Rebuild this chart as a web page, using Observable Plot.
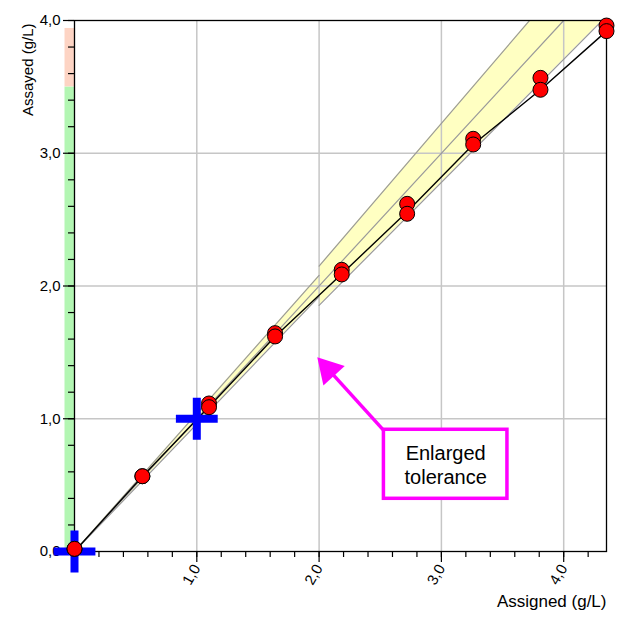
<!DOCTYPE html>
<html>
<head>
<meta charset="utf-8">
<script src="https://cdn.jsdelivr.net/npm/d3@7"></script>
<script src="https://cdn.jsdelivr.net/npm/@observablehq/plot@0.6"></script>
<style>
  html, body { margin: 0; padding: 0; background: #ffffff; }
  #chart svg { display: block; }
</style>
</head>
<body>
<div id="chart"></div>
<script>
// ---------- data ----------
const assigned    = [0.00, 0.555, 1.10, 1.64, 2.185, 2.72, 3.26, 3.81, 4.35];
const assayedHigh = [0.02, 0.567, 1.115, 1.645, 2.122, 2.619, 3.109, 3.568, 3.962];
const assayedLow  = [0.02, 0.567, 1.087, 1.620, 2.087, 2.544, 3.066, 3.478, 3.920];
const fitLine     = [0.00, 0.565, 1.090, 1.620, 2.090, 2.560, 3.066, 3.478, 3.920];

const yTickValues = [0, 1, 2, 3, 4];
const yTickLabels = ["0,0", "1,0", "2,0", "3,0", "4,0"];
const xTickValues = [1, 2, 3, 4];
const xTickLabels = ["1,0", "2,0", "3,0", "4,0"];
const yMinorTicks = [0, 0.2, 0.4, 0.6, 0.8, 1, 1.2, 1.4, 1.6, 1.8, 2, 2.2, 2.4, 2.6, 2.8, 3, 3.2, 3.4, 3.6, 3.8, 4];
const xMinorTicks = [0, 0.2, 0.4, 0.6, 0.8, 1, 1.2, 1.4, 1.6, 1.8, 2, 2.2, 2.4, 2.6, 2.8, 3, 3.2, 3.4, 3.6, 3.8, 4, 4.2];

// tolerance bands (relative to the identity line)
const standardRangeX = [0, 2];
const standardLow = [0.96, 0.96];
const standardHigh = [1.04, 1.04];
const enlargedRangeX = [2, 4.35];
const enlargedLow = [0.927, 0.927];
const enlargedHigh = [1.075, 1.075];

// identity line
const identityX = [0, 4];

// target crosses
const targetX = [0, 1];
const targetY = [0, 1];

// acceptance zones on the y axis
const zoneFrom  = [0, 3.5];
const zoneTo    = [3.5, 3.94];
const zoneColor = ["#b3f6b3", "#fdd4c4"];

// annotation
const annotationText = "Enlarged\ntolerance";
const boxX = [2.530, 3.540];
const boxY = [0.397, 0.917];
const arrowFrom = [2.530, 0.911];
const arrowTo   = [1.985, 1.464];

// ---------- tables built from the arrays ----------
const highPts = assigned.map((x, i) => ({x, y: assayedHigh[i]}));
const lowPts  = assigned.map((x, i) => ({x, y: assayedLow[i]}));
const points  = highPts.concat(lowPts);
const fit     = assigned.map((x, i) => ({x, y: fitLine[i]}));
const stdBand = standardRangeX.map((x, i) => ({x, lo: x * standardLow[i], hi: x * standardHigh[i]}));
const enlBand = enlargedRangeX.map((x, i) => ({x, lo: x * enlargedLow[i], hi: x * enlargedHigh[i]}));
const identity = identityX.map(x => ({x, y: x}));
const targets = targetX.map((x, i) => ({x, y: targetY[i]}));
const zones = zoneFrom.map((f, i) => ({from: f, to: zoneTo[i], color: zoneColor[i]}));
const box = [{x1: boxX[0], x2: boxX[1], y1: boxY[0], y2: boxY[1]}];
const label = [{x: (boxX[0] + boxX[1]) / 2, y: (boxY[0] + boxY[1]) / 2, text: annotationText}];
const headFrac = 0.2;
const arrow = [{
  x1: arrowFrom[0], y1: arrowFrom[1],
  x2: arrowTo[0] + (arrowFrom[0] - arrowTo[0]) * headFrac,
  y2: arrowTo[1] + (arrowFrom[1] - arrowTo[1]) * headFrac,
  tx: arrowTo[0], ty: arrowTo[1]
}];

const yFmt = d => yTickLabels[yTickValues.indexOf(d)];
const xFmt = d => xTickLabels[xTickValues.indexOf(d)];

const MAGENTA = "#ff00ff";
const BAND = "#ffffc2";
const EDGE = "#9a9a9a";
const GRID = "#c6c6c6";

const chart = Plot.plot({
  width: 617,
  height: 617,
  marginLeft: 74,
  marginRight: 11,
  marginTop: 20,
  marginBottom: 66,
  style: {fontFamily: "'Liberation Sans', Arial, sans-serif", fontSize: "15px", color: "#000", background: "#fff"},
  x: {domain: [0, 4.35]},
  y: {domain: [0, 4]},
  color: {type: "identity"},
  marks: [
    // tolerance bands
    Plot.areaY(stdBand, {x: "x", y1: "lo", y2: "hi", fill: BAND, clip: true}),
    Plot.areaY(enlBand, {x: "x", y1: "lo", y2: "hi", fill: BAND, clip: true}),
    // grid
    Plot.gridX(xTickValues, {stroke: GRID, strokeOpacity: 1, strokeWidth: 1.5}),
    Plot.gridY(yTickValues.filter(d => d > 0 && d < 4), {stroke: GRID, strokeOpacity: 1, strokeWidth: 1.5}),
    // band edges
    Plot.line(stdBand, {x: "x", y: "lo", stroke: EDGE, strokeWidth: 1.2, clip: true}),
    Plot.line(stdBand, {x: "x", y: "hi", stroke: EDGE, strokeWidth: 1.2, clip: true}),
    Plot.line(enlBand, {x: "x", y: "lo", stroke: EDGE, strokeWidth: 1.2, clip: true}),
    Plot.line(enlBand, {x: "x", y: "hi", stroke: EDGE, strokeWidth: 1.2, clip: true}),
    Plot.line(identity, {x: "x", y: "y", stroke: EDGE, strokeWidth: 1.2, clip: true}),
    // acceptance zones bar
    Plot.ruleX(zones, {x: 0, y1: "from", y2: "to", stroke: "color", strokeWidth: 10, dx: -5}),
    // frame
    Plot.frame({stroke: "#000", strokeWidth: 1.3}),
    // axes
    Plot.axisY(yMinorTicks, {tickSize: 6, tickFormat: () => "", label: null, strokeWidth: 1.2}),
    Plot.axisY(yTickValues, {tickSize: 11, tickPadding: 3, tickFormat: yFmt, label: null, fontSize: 15, strokeWidth: 1.2}),
    Plot.axisX(xMinorTicks, {tickSize: 6, tickFormat: () => "", label: null, strokeWidth: 1.2}),
    Plot.axisX(xTickValues, {tickSize: 11, tickPadding: 3, tickRotate: -60, tickFormat: xFmt, label: null, fontSize: 15, strokeWidth: 1.2}),
    Plot.text(["Assayed (g/L)"], {frameAnchor: "top-left", rotate: -90, textAnchor: "end", dx: -52, dy: 3, fontSize: 15}),
    Plot.text(["Assigned (g/L)"], {frameAnchor: "bottom-right", textAnchor: "end", dx: 0, dy: 55, fontSize: 17}),
    // fitted line
    Plot.line(fit, {x: "x", y: "y", stroke: "#000", strokeWidth: 1.4}),
    // target crosses
    Plot.dot(targets, {x: "x", y: "y", symbol: "plus", r: 13.5, stroke: "#0000ff", strokeWidth: 8}),
    // measurements
    Plot.dot(points, {x: "x", y: "y", r: 7.5, fill: "#ff0000", stroke: "#000", strokeWidth: 1}),
    // annotation
    Plot.link(arrow, {x1: "x1", y1: "y1", x2: "x2", y2: "y2", stroke: MAGENTA, strokeWidth: 3.5}),
    Plot.dot(arrow, {x: "tx", y: "ty", symbol: "triangle", r: 10.7, fill: MAGENTA, stroke: "none", rotate: -42.3, dx: 11.2, dy: 12.4}),
    Plot.rect(box, {x1: "x1", x2: "x2", y1: "y1", y2: "y2", fill: "#fff", stroke: MAGENTA, strokeWidth: 3.5}),
    Plot.text(label, {x: "x", y: "y", text: "text", fontSize: 20, lineHeight: 1.18, fill: "#000"})
  ]
});

document.getElementById("chart").appendChild(chart);
</script>
</body>
</html>
